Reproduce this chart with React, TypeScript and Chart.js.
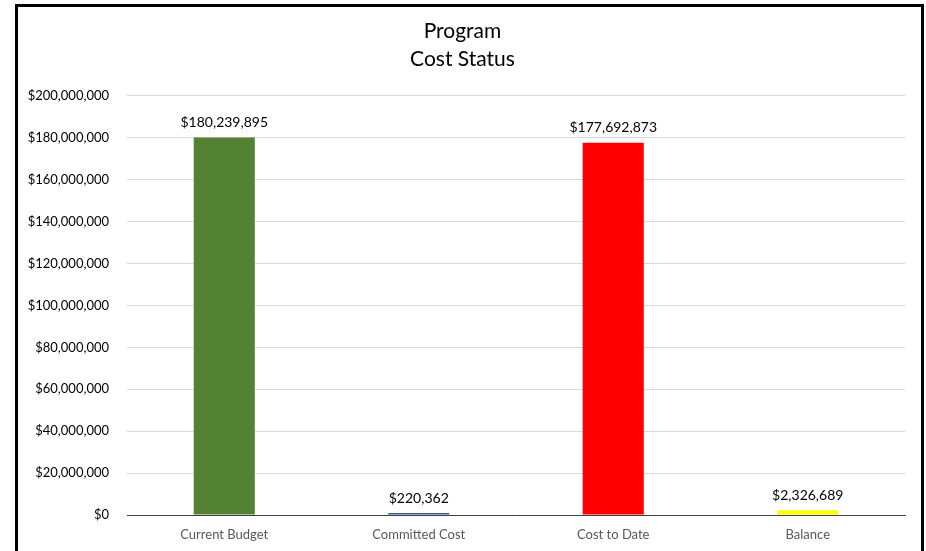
import React, { useEffect, useRef } from "react";
import { Chart, registerables } from "chart.js";

Chart.register(...registerables);

const titleLines = ["Program", "Cost Status"];
const categories = ["Current Budget", "Committed Cost", "Cost to Date", "Balance"];
const values = [180239895, 220362, 177692873, 2326689];
const barColors = ["#548235", "#2F5597", "#FF0000", "#FFFF00"];
const yMin = 0;
const yMax = 200000000;
const yStep = 20000000;

const FONT = "Lato, 'Open Sans', 'DejaVu Sans', sans-serif";

const fmt = (v: number) => "$" + Math.round(v).toLocaleString("en-US");

const valueLabels = {
  id: "valueLabels",
  afterDatasetsDraw(chart: any) {
    const ctx = chart.ctx;
    const meta = chart.getDatasetMeta(0);
    ctx.save();
    ctx.font = `14px ${FONT}`;
    ctx.fillStyle = "#000000";
    ctx.textAlign = "center";
    ctx.textBaseline = "middle";
    meta.data.forEach((bar: any, i: number) => {
      const v = chart.data.datasets[0].data[i] as number;
      ctx.fillText(fmt(v), bar.x, bar.y - 15);
    });
    ctx.restore();
  },
};

export default function App() {
  const ref = useRef<HTMLCanvasElement | null>(null);

  useEffect(() => {
    if (!ref.current) return;
    const chart = new Chart(ref.current, {
      type: "bar",
      data: {
        labels: categories,
        datasets: [
          {
            data: values,
            backgroundColor: barColors,
            borderWidth: 0,
            barPercentage: 0.314,
            categoryPercentage: 1,
            minBarLength: 2,
          },
        ],
      },
      options: {
        responsive: false,
        animation: false,
        devicePixelRatio: 1,
        layout: { padding: { left: 20, right: 21, top: 0, bottom: 0 } },
        plugins: {
          legend: { display: false },
          tooltip: { enabled: false },
          title: {
            display: true,
            text: titleLines,
            color: "#000000",
            font: { family: FONT, size: 21, weight: "normal", lineHeight: 1.333 },
            padding: { top: 17, bottom: 23 },
          },
        },
        scales: {
          x: {
            grid: { display: false, drawTicks: false },
            border: { display: true, color: "#404040", width: 1 },
            ticks: {
              color: "#595959",
              font: { family: FONT, size: 13 },
              padding: 12,
              maxRotation: 0,
            },
            afterFit(scale: any) {
              scale.height = 36;
            },
          },
          y: {
            min: yMin,
            max: yMax,
            grid: { color: "#d9d9d9", lineWidth: 1, drawTicks: false },
            border: { display: false },
            ticks: {
              stepSize: yStep,
              color: "#000000",
              font: { family: FONT, size: 13 },
              padding: 18,
              callback: (v: any) => fmt(Number(v)),
            },
            afterFit(scale: any) {
              scale.width = 107;
            },
          },
        },
      },
      plugins: [valueLabels],
    });
    return () => chart.destroy();
  }, []);

  return (
    <div
      style={{
        position: "fixed",
        left: 0,
        top: 0,
        width: 926,
        height: 551,
        overflow: "hidden",
        background: "#ffffff",
      }}
    >
      <canvas ref={ref} width={926} height={551} style={{ position: "absolute", left: 0, top: 0, width: 926, height: 551 }} />
      <div
        style={{
          position: "absolute",
          left: 15,
          top: 4,
          width: 909,
          height: 600,
          border: "3px solid #000000",
          boxSizing: "border-box",
          pointerEvents: "none",
        }}
      />
    </div>
  );
}
